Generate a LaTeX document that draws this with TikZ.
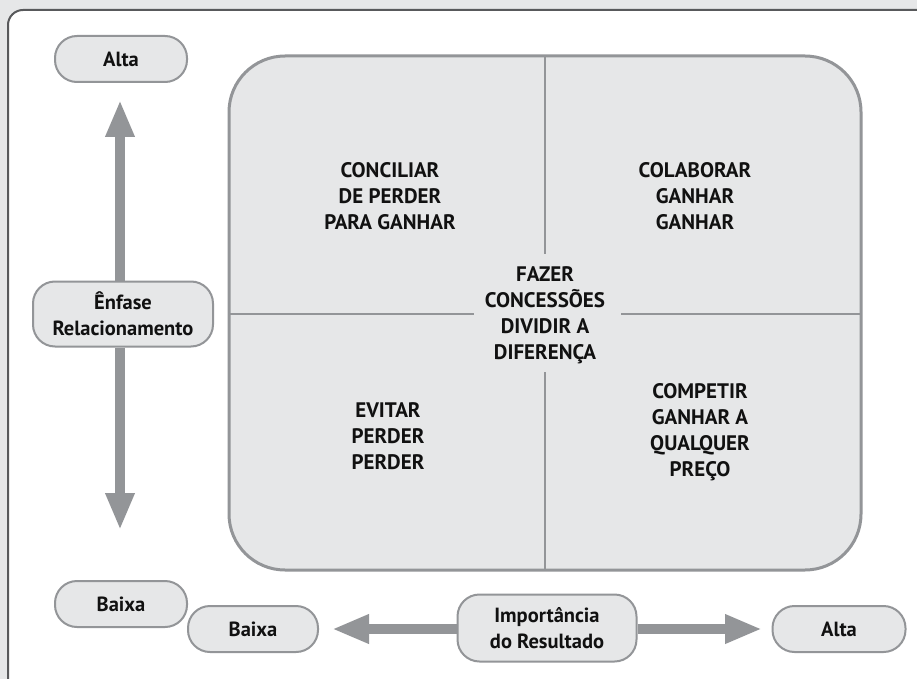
\documentclass[tikz,border=0pt]{standalone}
\usepackage{fontspec}
\setmainfont{PT Sans}
\usetikzlibrary{arrows.meta}
\definecolor{bggray}{HTML}{E6E7E8}
\definecolor{framegray}{HTML}{58595B}
\definecolor{linegray}{HTML}{939598}
\definecolor{txt}{HTML}{111111}
\tikzset{
  pill/.style={draw=linegray, line width=2pt, fill=bggray, rounded corners=22pt,
    minimum width=132pt, minimum height=46pt, inner sep=0pt, align=center,
    text=txt, font=\fontsize{20.5}{26}\selectfont\bfseries},
  quad/.style={align=center, text=txt, inner sep=0pt,
    font=\fontsize{21}{26}\selectfont\bfseries},
  bigarrow/.style={draw=linegray, line width=10pt,
    -{Triangle[length=37pt, width=27pt, fill=linegray]}},
  divider/.style={draw=linegray, line width=2pt}
}
\begin{document}
\begin{tikzpicture}[x=1pt,y=-1pt]
\useasboundingbox (0,0) rectangle (917,679);
\fill[bggray] (0,0) rectangle (917,679);
\begin{scope}
\clip (0,0) rectangle (917,679);
\draw[framegray, line width=2pt, fill=white, rounded corners=15pt] (8,10) rectangle (935,700);
\end{scope}
% big box
\draw[linegray, line width=3pt, fill=bggray, rounded corners=56pt] (229,56) rectangle (861,570);
\coordinate (vt) at (545,56);
\coordinate (vtb) at (545,254);
\coordinate (vb) at (545,372);
\coordinate (vbb) at (545,570);
\coordinate (hl) at (229,314);
\coordinate (hle) at (474,314);
\coordinate (hr) at (621,314);
\coordinate (hre) at (861,314);
\draw[divider] (vt) -- (vtb);
\draw[divider] (vb) -- (vbb);
\draw[divider] (hl) -- (hle);
\draw[divider] (hr) -- (hre);
% quadrant texts
\node[quad] (q1) at (390,196) {CONCILIAR\\DE PERDER\\PARA GANHAR};
\node[quad] (q2) at (695,196) {COLABORAR\\GANHAR\\GANHAR};
\node[quad] (q0) at (545,315) {FAZER\\CONCESSÕES\\DIVIDIR A\\DIFERENÇA};
\node[quad] (q3) at (388,436) {EVITAR\\PERDER\\PERDER};
\node[quad] (q4) at (700,432) {COMPETIR\\GANHAR A\\QUALQUER\\PREÇO};
% pills
\node[pill] (alta1) at (121,59) {Alta};
\node[pill, minimum width=180pt, minimum height=65pt] (enf) at (123,314) {Ênfase\\Relacionamento};
\node[pill] (baixa1) at (121,604) {Baixa};
\node[pill, minimum width=130pt] (baixa2) at (253,629) {Baixa};
\node[pill, minimum width=179pt, minimum height=67pt] (imp) at (547,628) {Importância\\do Resultado};
\node[pill, minimum width=133pt] (alta2) at (839,629) {Alta};
% arrows
\coordinate (tipU) at (120,100);
\coordinate (tipD) at (120,530);
\coordinate (tipL) at (332,629);
\coordinate (tipR) at (762,629);
\draw[bigarrow] (enf.north -| tipU) -- (tipU);
\draw[bigarrow] (enf.south -| tipD) -- (tipD);
\draw[bigarrow] (imp.west |- tipL) -- (tipL);
\draw[bigarrow] (imp.east |- tipR) -- (tipR);
\end{tikzpicture}
\end{document}
